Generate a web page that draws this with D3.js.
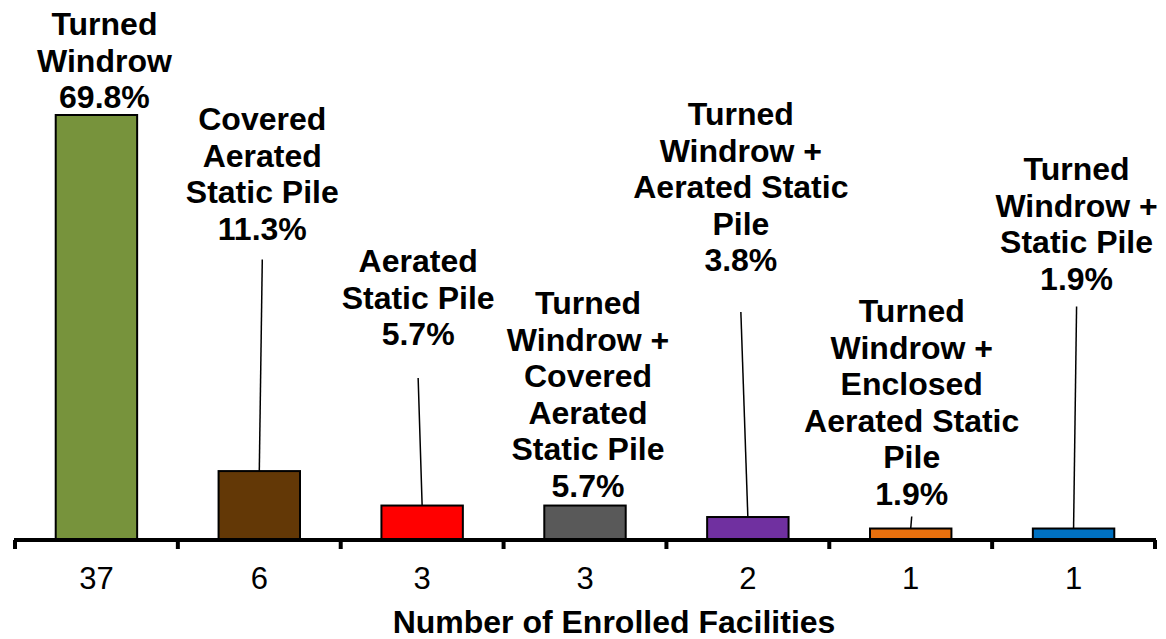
<!DOCTYPE html>
<html>
<head>
<meta charset="utf-8">
<script src="https://cdn.jsdelivr.net/npm/d3@7"></script>
<style>
  body { margin: 0; background: #fff; }
  svg { font-family: "Liberation Sans", Arial, sans-serif; }
</style>
</head>
<body>
<div id="wrapper"></div>
<script>
// data
const categories = [
  ["Turned", "Windrow"],
  ["Covered", "Aerated", "Static Pile"],
  ["Aerated", "Static Pile"],
  ["Turned", "Windrow +", "Covered", "Aerated", "Static Pile"],
  ["Turned", "Windrow +", "Aerated Static", "Pile"],
  ["Turned", "Windrow +", "Enclosed", "Aerated Static", "Pile"],
  ["Turned", "Windrow +", "Static Pile"]
]
const facilities = [37, 6, 3, 3, 2, 1, 1]
const percents = ["69.8%", "11.3%", "5.7%", "5.7%", "3.8%", "1.9%", "1.9%"]
const barColors = ["#77933c", "#633806", "#ff0000", "#595959", "#7030a0", "#e8700e", "#0070c0"]

// label placement (layout only): x shift from bar centre, first baseline, leader start gap
const labelDx = [8, 3, -4, 3, -7, 1, 3]
const labelTop = [35, 130, 272, 314, 125, 322, 180]
const leaderGap = [null, 20, 33, null, 41, 12, 17]

const width = 1166, height = 639
const margin = { left: 15, right: 11, top: 0 }
const baseY = 540
const lineH = 36.5

const svg = d3.select("#wrapper").append("svg")
  .attr("width", width).attr("height", height)

const xScale = d3.scaleBand()
  .domain(d3.range(facilities.length))
  .range([margin.left, width - margin.right])
  .paddingInner(0.5).paddingOuter(0.25)

const yScale = d3.scaleLinear()
  .domain([0, 37])
  .range([baseY, 115])

// bars
svg.selectAll("rect.bar")
  .data(facilities)
  .join("rect")
  .attr("class", "bar")
  .attr("x", (d, i) => xScale(i))
  .attr("y", d => yScale(d))
  .attr("width", xScale.bandwidth())
  .attr("height", d => baseY - yScale(d))
  .attr("fill", (d, i) => barColors[i])
  .attr("stroke", "#000")
  .attr("stroke-width", 2)

// labels
const lab = svg.selectAll("g.lab")
  .data(facilities)
  .join("g")
  .attr("class", "lab")

lab.each(function(d, i) {
  const g = d3.select(this)
  const cx = xScale(i) + xScale.bandwidth() / 2 + labelDx[i]
  const lines = categories[i].concat([percents[i]])
  const t = g.append("text")
    .attr("text-anchor", "middle")
    .attr("font-weight", "bold")
    .attr("font-size", 32)
    .attr("fill", "#000")
  lines.forEach((s, k) => {
    t.append("tspan").attr("x", cx).attr("y", labelTop[i] + k * lineH).text(s)
  })
  if (leaderGap[i] != null) {
    const y0 = labelTop[i] + (lines.length - 1) * lineH + leaderGap[i]
    g.append("line")
      .attr("x1", cx).attr("y1", y0)
      .attr("x2", xScale(i) + xScale.bandwidth() / 2).attr("y2", yScale(d))
      .attr("stroke", "#000").attr("stroke-width", 1.5)
  }
})

// x axis
const edges = d3.range(facilities.length + 1).map(i => margin.left + i * xScale.step())
svg.append("line")
  .attr("x1", margin.left - 1).attr("x2", width - margin.right + 1)
  .attr("y1", baseY).attr("y2", baseY)
  .attr("stroke", "#000").attr("stroke-width", 4)
svg.selectAll("line.tick")
  .data(edges)
  .join("line")
  .attr("class", "tick")
  .attr("x1", d => d).attr("x2", d => d)
  .attr("y1", baseY).attr("y2", baseY + 9)
  .attr("stroke", "#000").attr("stroke-width", 4)

svg.selectAll("text.val")
  .data(facilities)
  .join("text")
  .attr("class", "val")
  .attr("x", (d, i) => xScale(i) + xScale.bandwidth() / 2)
  .attr("y", 589)
  .attr("text-anchor", "middle")
  .attr("font-size", 31)
  .text(d => d)

svg.append("text")
  .attr("x", 614).attr("y", 633)
  .attr("text-anchor", "middle")
  .attr("font-weight", "bold")
  .attr("font-size", 32)
  .text("Number of Enrolled Facilities")
</script>
</body>
</html>
